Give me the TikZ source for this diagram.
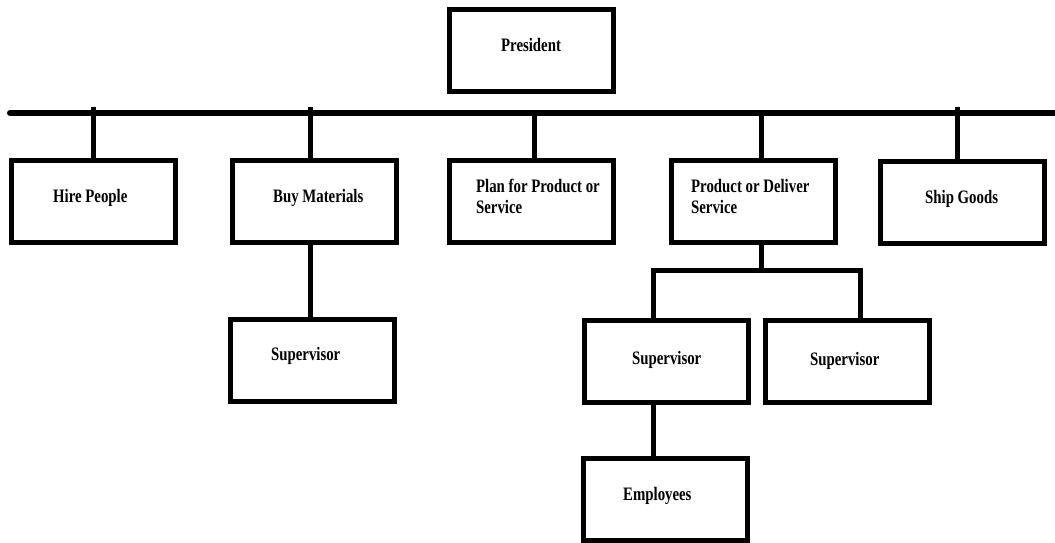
\documentclass[tikz,border=0pt]{standalone}
\usepackage{fontspec}
\setmainfont{Liberation Serif}
\begin{document}
\begin{tikzpicture}[x=1pt,y=-1pt,
    unit/.style={draw,line width=5pt,minimum width=164pt,minimum height=82pt,inner sep=0pt},
    caption/.style={anchor=base west,inner sep=0pt,align=left,transform shape,xscale=0.78,
      font=\bfseries\fontsize{19}{21}\selectfont},
    link/.style={line width=5pt}]
  \useasboundingbox (0,0) rectangle (1055,543);
  \node[unit] (pres) at (531.5,50.5) {};
  \node[unit] (hire) at (93,201.5) {};
  \node[unit] (buy) at (314,201.5) {};
  \node[unit] (plan) at (531.5,201.5) {};
  \node[unit] (prod) at (753,201.5) {};
  \node[unit] (ship) at (962,202.5) {};
  \node[unit] (supb) at (312.5,360) {};
  \node[unit] (supl) at (666,361) {};
  \node[unit] (supr) at (847.5,361) {};
  \node[unit] (emp) at (665.5,499.5) {};

  \node[caption] (tpres) at (501,52) {President};
  \node[caption] (thire) at (53,202) {Hire People};
  \node[caption] (tbuy) at (273,202) {Buy Materials};
  \node[caption] (tplan) at (476,213) {Plan for Product or\\Service};
  \node[caption] (tprod) at (691,213) {Product or Deliver\\Service};
  \node[caption] (tship) at (925,203) {Ship Goods};
  \node[caption] (tsupb) at (271,360) {Supervisor};
  \node[caption] (tsupl) at (632,364) {Supervisor};
  \node[caption] (tsupr) at (810,365) {Supervisor};
  \node[caption] (temp) at (623,500) {Employees};

  \coordinate (west) at (10,113);
  \coordinate (east) at (1060,113);
  \draw[line width=6pt,line cap=round] (west) -- (east);
  \coordinate (bhire) at (93,107);
  \coordinate (bbuy) at (310,107);
  \coordinate (bplan) at (534,113);
  \coordinate (bprod) at (761,113);
  \coordinate (bship) at (957,107);
  \draw[link] (bhire) -- (bhire |- hire.north);
  \draw[link] (bbuy) -- (bbuy |- buy.north);
  \draw[link] (bplan) -- (bplan |- plan.north);
  \draw[link] (bprod) -- (bprod |- prod.north);
  \draw[link] (bship) -- (bship |- ship.north);
  \draw[link] (buy.south -| bbuy) -- (supb.north -| bbuy);

  \coordinate (fork) at (761,270);
  \coordinate (forkl) at (653,270);
  \coordinate (forkr) at (860,270);
  \draw[link] (prod.south -| fork) -- (fork);
  \draw[link] (forkl |- supl.north) -- (forkl) -- (forkr) -- (forkr |- supr.north);
  \draw[link] (supl.south -| forkl) -- (emp.north -| forkl);
\end{tikzpicture}
\end{document}
